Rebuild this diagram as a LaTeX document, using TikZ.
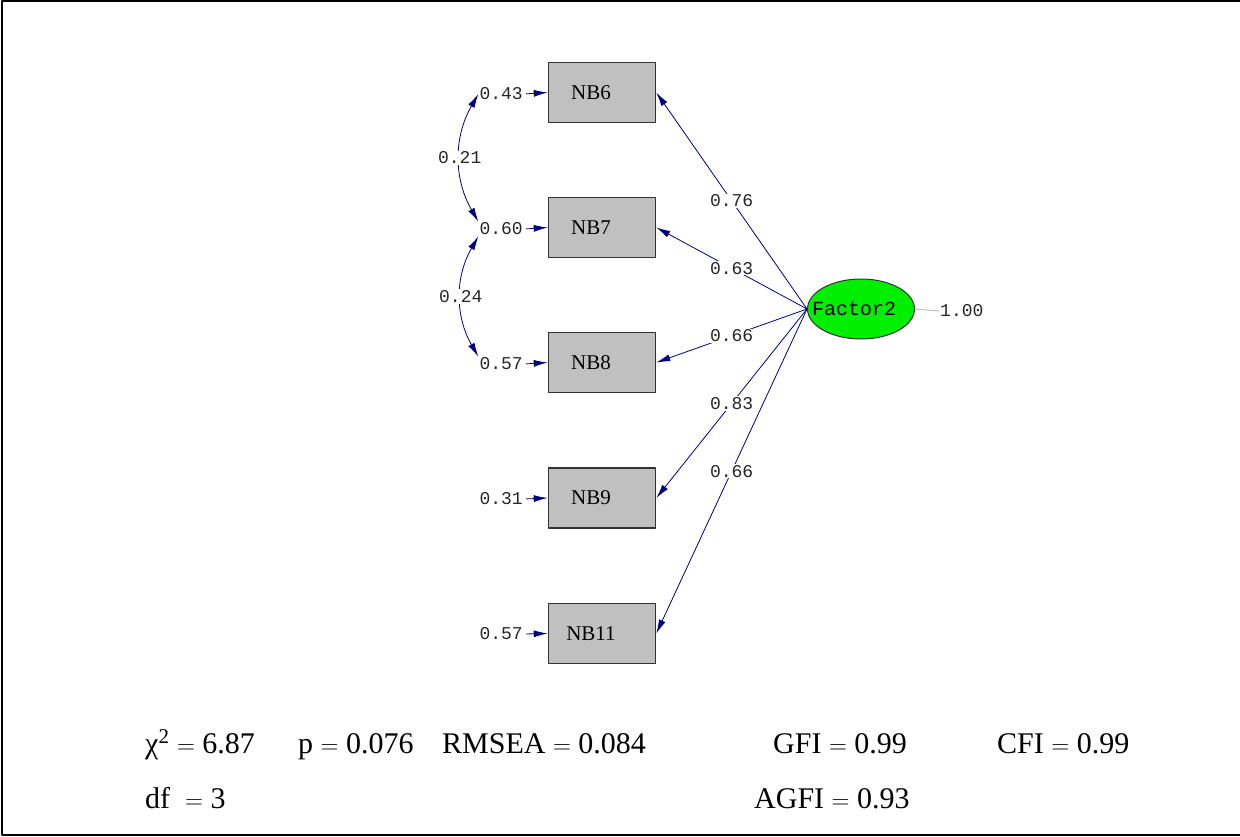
\documentclass[tikz,border=0pt]{standalone}
\usepackage{fontspec}
\setmainfont{Liberation Serif}
\newfontfamily\lisrel{Liberation Mono}
\usetikzlibrary{arrows.meta,shapes.geometric}
\definecolor{lnavy}{RGB}{0,0,128}
\definecolor{boxgray}{RGB}{192,192,192}
\definecolor{factgreen}{RGB}{0,238,0}
\begin{document}
\begin{tikzpicture}[x=1pt,y=-1pt,>={Latex[length=14pt,width=7pt]},line join=round,
	obs/.style={draw=black!80,line width=1.6pt,fill=boxgray,minimum width=107pt,minimum height=60pt,inner sep=0pt,font=\fontsize{21}{22}\selectfont,execute at begin node=\hspace*{-22pt}},
	latent/.style={ellipse,draw=black!80,line width=1pt,fill=factgreen,minimum width=107pt,minimum height=60pt,inner xsep=2.8pt,inner ysep=0pt,font=\lisrel\fontsize{20}{20}\selectfont,execute at begin node=\hspace*{-14pt}},
	val/.style={font=\lisrel\fontsize{18}{18}\selectfont,text=black!85,inner sep=1pt},
	path/.style={draw=lnavy,line width=0.8pt},
	stat/.style={anchor=base west,inner sep=0pt,font=\fontsize{30}{31}\selectfont}]
	\useasboundingbox (0,0) rectangle (1240,837);
	\draw[line width=2pt] (1250,1.5) -- (1.5,1.5) -- (1.5,835) -- (1250,835);
	% indicators
	\node[obs] (nb6) at (602,92.5) {NB6};
	\node[obs] (nb7) at (602,227.5) {NB7};
	\node[obs] (nb8) at (602,362.5) {NB8};
	\node[obs] (nb9) at (602,498) {NB9};
	\node[obs] (nb11) at (602,633.5) {NB11};
	\node[latent] (f2) at (861,309) {Factor2};
	\node[val,anchor=west] (v1) at (939,311) {1.00};
	\draw[gray!50,line width=1pt] (f2.east) -- (v1.west);
	% error variances
	\node[val,anchor=east] (e6) at (524,94) {0.43};
	\node[val,anchor=east] (e7) at (524,229) {0.60};
	\node[val,anchor=east] (e8) at (524,364) {0.57};
	\node[val,anchor=east] (e9) at (524,499) {0.31};
	\node[val,anchor=east] (e11) at (524,634) {0.57};
	\foreach \i in {6,7,8,9,11}
		\draw[path,->,shorten <=2pt] (e\i.east) -- (nb\i.west);
	% loadings
	\draw[path,->] (f2.west) -- node[val,fill=white] {0.76} (nb6.east);
	\draw[path,->] (f2.west) -- node[val,fill=white] {0.63} (nb7.east);
	\draw[path,->] (f2.west) -- node[val,fill=white] {0.66} (nb8.east);
	\draw[path,->] (f2.west) -- node[val,fill=white] {0.83} (nb9.east);
	\draw[path,->] (f2.west) -- node[val,fill=white] {0.66} (nb11.east);
	% error covariances
	\draw[path,<->] (e6.west) to[out=240,in=120] node[val,fill=white] {0.21} (e7.north west);
	\draw[path,<->] (e7.south west) to[out=240,in=120] node[val,fill=white] {0.24} (e8.north west);
	% fit statistics
	\node[stat] (chi) at (145,753) {χ\textsuperscript{2} $=$ 6.87};
	\node[stat] (pval) at (298,753) {p $=$ 0.076};
	\node[stat] (rmsea) at (442,753) {RMSEA $=$ 0.084};
	\node[stat] (gfi) at (773,753) {GFI $=$ 0.99};
	\node[stat] (cfi) at (997,753) {CFI $=$ 0.99};
	\node[stat] (df) at (145,808) {df \ $=$ 3};
	\node[stat] (agfi) at (754,808) {AGFI $=$ 0.93};
\end{tikzpicture}
\end{document}
